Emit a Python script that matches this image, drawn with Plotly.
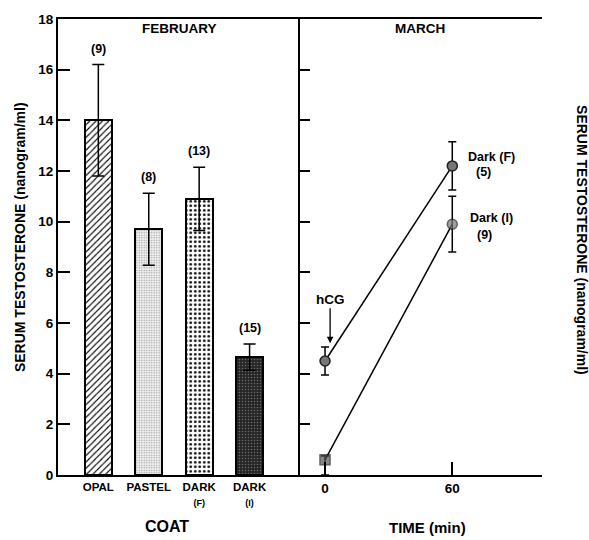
import plotly.graph_objects as go

# ---- data ----
coat_labels = ["OPAL", "PASTEL", "DARK<br><span style='font-size:9px'>(F)</span>",
               "DARK<br><span style='font-size:9px'>(I)</span>"]
coat_pos = [0, 1, 2, 3]
coat_means = [14.0, 9.7, 10.9, 4.65]
coat_err = [2.2, 1.42, 1.25, 0.52]
coat_n = ["(9)", "(8)", "(13)", "(15)"]

time_ticks = [0, 60]
darkF_time = [0, 60]
darkF_vals = [4.5, 12.2]
darkF_err = [0.55, 0.95]
darkI_time = [0, 60]
darkI_vals = [0.6, 9.9]
darkI_err_up = [0.15, 1.1]
darkI_err_dn = [0.6, 1.1]

y_ticks = [0, 2, 4, 6, 8, 10, 12, 14, 16, 18]

# bar fill styles (one per coat)
bar_fill = [
    dict(shape="/", fg="black", bg="white", size=4.5, sol=0.25),
    dict(shape=".", fg="#9a9a9a", bg="#efefef", size=2.5, sol=0.25),
    dict(shape=".", fg="#111111", bg="white", size=4.5, sol=0.3),
    dict(shape=".", fg="#6a6a6a", bg="#262626", size=3, sol=0.2),
]

FONT = "Liberation Sans, Arial, Helvetica, sans-serif"

fig = go.Figure()

for xp, m, e, st in zip(coat_pos, coat_means, coat_err, bar_fill):
    fig.add_trace(go.Bar(
        x=[xp], y=[m], width=0.53,
        xaxis="x", yaxis="y",
        error_y=dict(type="data", array=[e], color="black", thickness=1.5, width=6),
        marker=dict(
            color=st["bg"],
            line=dict(color="black", width=2),
            pattern=dict(shape=st["shape"], fgcolor=st["fg"], bgcolor=st["bg"],
                         size=st["size"], solidity=st["sol"], fillmode="replace"),
        ),
        showlegend=False,
    ))

fig.add_trace(go.Scatter(
    x=darkF_time, y=darkF_vals, xaxis="x2", yaxis="y2",
    mode="lines+markers",
    line=dict(color="black", width=1.5),
    marker=dict(symbol="circle", size=10, color="#777777", line=dict(color="#222", width=1.5)),
    error_y=dict(type="data", array=darkF_err, color="black", thickness=1.5, width=4),
    showlegend=False,
))
fig.add_trace(go.Scatter(
    x=darkI_time, y=darkI_vals, xaxis="x2", yaxis="y2",
    mode="lines+markers",
    line=dict(color="black", width=1.5),
    marker=dict(symbol=["square", "circle"], size=[10, 10], color=["#555555", "#777777"],
                line=dict(color="#222", width=1.5)),
    error_y=dict(type="data", symmetric=False, array=darkI_err_up, arrayminus=darkI_err_dn,
                 color="black", thickness=1.5, width=4),
    showlegend=False,
))

bold_tick = dict(family=FONT, size=13.5, color="black", weight="bold")

fig.update_layout(
    width=589, height=540,
    margin=dict(l=58, r=47, t=15, b=65),
    paper_bgcolor="white", plot_bgcolor="white",
    font=dict(family=FONT, color="black"),
    bargap=0,
    xaxis=dict(domain=[0, 0.5], range=[-0.8, 4.0], anchor="y",
               tickvals=coat_pos, ticktext=coat_labels, ticks="",
               tickfont=dict(family=FONT, size=11.5, color="black", weight="bold"),
               showline=True, mirror=True, linecolor="black", linewidth=2,
               showgrid=False, zeroline=False),
    xaxis2=dict(domain=[0.5, 1], range=[-11.8, 102.3], anchor="y2",
                tickvals=time_ticks, ticks="inside", ticklen=13, tickwidth=1.5, tickcolor="black",
                tickfont=bold_tick,
                showline=True, mirror=True, linecolor="black", linewidth=2,
                showgrid=False, zeroline=False),
    yaxis=dict(range=[0, 18], anchor="x", tickvals=y_ticks, ticks="inside", ticklen=12,
               tickwidth=1.5, tickcolor="black", tickfont=bold_tick,
               showline=True, linecolor="black", linewidth=2,
               showgrid=False, zeroline=False),
    yaxis2=dict(range=[0, 18], anchor="x2", side="left", tickvals=y_ticks, ticks="inside",
                ticklen=10, tickwidth=1.5, tickcolor="black", showticklabels=False,
                showline=True, linecolor="black", linewidth=2,
                showgrid=False, zeroline=False),
    yaxis3=dict(range=[0, 18], anchor="x2", overlaying="y2", side="right", tickvals=y_ticks,
                ticks="inside", ticklen=11, tickwidth=1.5, tickcolor="black", tickfont=bold_tick,
                ticklabelstandoff=6,
                showline=True, linecolor="black", linewidth=1.5,
                showgrid=False, zeroline=False),
)

ann = []
for xp, m, e, n in zip(coat_pos, coat_means, coat_err, coat_n):
    ann.append(dict(x=xp, y=m + e, xref="x", yref="y", text="<b>%s</b>" % n, showarrow=False,
                    yshift=16, font=dict(size=12.5)))

def paper(text, px, py, size, angle=0):
    return dict(x=(px - 58) / 484, y=(475 - py) / 460, xref="paper", yref="paper",
                text=text, showarrow=False, textangle=angle,
                font=dict(size=size, family=FONT, color="black"),
                xanchor="center", yanchor="middle")

ann += [
    paper("<b>FEBRUARY</b>", 179, 25, 13.5),
    paper("<b>MARCH</b>", 420, 25, 13.5),
    paper("<b>COAT</b>", 167, 527, 16),
    paper("<b>TIME (min)</b>", 427, 528, 15),
    paper("<b>SERUM TESTOSTERONE (nanogram/ml)</b>", 20, 235, 14, -90),
    paper("<b>SERUM TESTOSTERONE (nanogram/ml)</b>", 582, 238, 14, 90),
    paper("<b>Dark (F)</b>", 491, 154, 12.5),
    paper("<b>(5)</b>", 483, 169, 12.5),
    paper("<b>Dark (I)</b>", 491, 216, 12.5),
    paper("<b>(9)</b>", 484, 233, 12.5),
]
ann.append(dict(x=2.4, y=5.2, xref="x2", yref="y2", text="<b>hCG</b>", showarrow=True,
                ax=0, ay=-44, arrowhead=2, arrowsize=1, arrowwidth=1.3, arrowcolor="black",
                standoff=0, font=dict(size=13.5, family=FONT, color="black")))

fig.update_layout(annotations=ann)

fig.write_html("out.html", config={"displayModeBar": False},
               post_script="document.body.style.margin='0px';document.body.style.overflow='hidden';")
